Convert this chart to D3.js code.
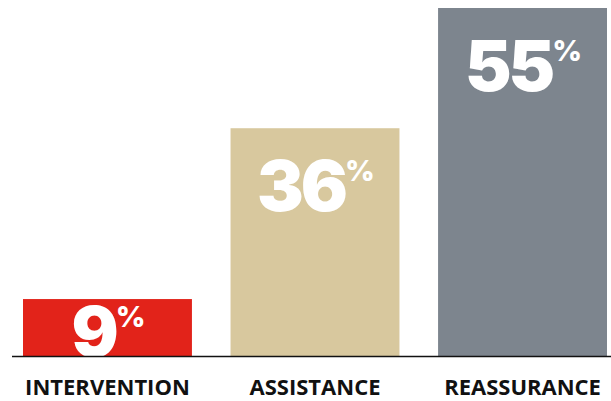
<!DOCTYPE html>
<html>
<head>
<meta charset="utf-8">
<script src="https://cdn.jsdelivr.net/npm/d3@7"></script>
<style>
  body { margin: 0; background: #fff; }
  svg { display: block; }
</style>
</head>
<body>
<script>
// values
var categories = ["INTERVENTION", "ASSISTANCE", "REASSURANCE"];
var values = [9, 36, 55];
var colors = ["#e2231a", "#d8c89e", "#7d858e"];

var width = 611,
    height = 401,
    base = 356;

var svg = d3.select("body").append("svg")
    .attr("width", width)
    .attr("height", height);

var x = d3.scaleBand()
    .domain(categories)
    .range([23, 607])
    .paddingInner(0.186)
    .paddingOuter(0);

var y = d3.scaleLinear()
    .domain([0, 55])
    .range([base, 8]);

svg.append("defs").selectAll("clipPath")
    .data(values)
    .enter()
    .append("clipPath")
    .attr("id", function(d, i){ return "clip-" + i; })
    .append("rect")
    .attr("x", function(d, i){ return x(categories[i]); })
    .attr("y", function(d){ return y(d); })
    .attr("width", x.bandwidth())
    .attr("height", function(d){ return base - y(d); });

var bar = svg.selectAll(".bar")
    .data(values)
    .enter()
    .append("g")
    .attr("class", "bar");

bar.append("rect")
    .attr("x", function(d, i){ return x(categories[i]); })
    .attr("y", function(d){ return y(d); })
    .attr("width", x.bandwidth())
    .attr("height", function(d){ return base - y(d); })
    .style("fill", function(d, i){ return colors[i]; });

var label = bar.append("text")
    .attr("clip-path", function(d, i){ return "url(#clip-" + i + ")"; })
    .attr("x", function(d, i){ return x(categories[i]) + x.bandwidth() / 2 + 1; })
    .attr("y", function(d){ return Math.min(y(d) + 83, base + 1); })
    .attr("text-anchor", "middle")
    .style("font-family", "Inter, Lato, sans-serif")
    .style("font-weight", 900)
    .style("fill", "#fff");

label.append("tspan")
    .style("font-size", "70px")
    .style("letter-spacing", "-3px")
    .text(function(d){ return d; });

label.append("tspan")
    .attr("dy", -30)
    .attr("dx", 0)
    .style("font-size", "29px")
    .style("font-weight", 800)
    .text("%");

// baseline
svg.append("line")
    .attr("x1", 12)
    .attr("x2", width)
    .attr("y1", base + 0.5)
    .attr("y2", base + 0.5)
    .style("stroke", "#111")
    .style("stroke-width", 1.6);

var xAxis = d3.axisBottom(x).tickSize(0).tickPadding(0);

svg.append("g")
    .attr("transform", "translate(0," + (base + 24) + ")")
    .call(xAxis)
    .call(function(g){ g.select(".domain").remove(); })
    .selectAll("text")
    .attr("dy", 0)
    .attr("y", 15)
    .style("font-family", "'Open Sans', sans-serif")
    .style("font-weight", 700)
    .style("font-size", "22px")
    .style("fill", "#111");
</script>
</body>
</html>
